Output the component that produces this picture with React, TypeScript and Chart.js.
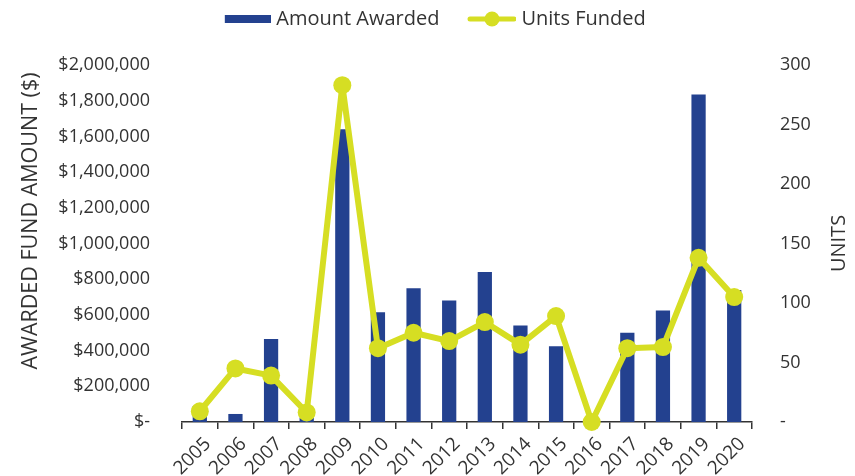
import React, { useEffect, useRef } from "react";
import { Chart, registerables } from "chart.js";

Chart.register(...registerables);

const years = ["2005", "2006", "2007", "2008", "2009", "2010", "2011", "2012", "2013", "2014", "2015", "2016", "2017", "2018", "2019", "2020"];
const amountAwarded = [90000, 45000, 465000, 25000, 1640000, 615000, 750000, 680000, 840000, 540000, 425000, 0, 500000, 625000, 1835000, 740000];
const unitsFunded = [9, 45, 39, 8, 283, 62, 75, 68, 84, 65, 89, 0, 62, 63, 138, 105];
const amountTicks = [0, 200000, 400000, 600000, 800000, 1000000, 1200000, 1400000, 1600000, 1800000, 2000000];
const unitTicks = [0, 50, 100, 150, 200, 250, 300];

const seriesNames = ["Amount Awarded", "Units Funded"];
const leftTitle = "AWARDED FUND AMOUNT ($)";
const rightTitle = "UNITS";

const BLUE = "#23418F";
const LIME = "#D6DE23";
const TEXT = "#333333";
const FONT = '"Open Sans", sans-serif';

function makeBarSymbol(): HTMLCanvasElement {
  const c = document.createElement("canvas");
  c.width = 72;
  c.height = 20;
  const g = c.getContext("2d")!;
  g.fillStyle = BLUE;
  g.fillRect(26, 6, 46, 8);
  return c;
}

function makeLineSymbol(): HTMLCanvasElement {
  const c = document.createElement("canvas");
  c.width = 72;
  c.height = 20;
  const g = c.getContext("2d")!;
  g.strokeStyle = LIME;
  g.lineWidth = 5;
  g.lineCap = "round";
  g.beginPath();
  g.moveTo(26, 10);
  g.lineTo(70, 10);
  g.stroke();
  g.fillStyle = LIME;
  g.beginPath();
  g.arc(48, 10, 7.5, 0, Math.PI * 2);
  g.fill();
  return c;
}

// keep the legend at the very top of the canvas while the plot area starts lower
const legendTopPlugin = {
  id: "legendTop",
  afterLayout(chart: any) {
    const lg = chart.legend;
    if (!lg) return;
    const h = lg.height;
    lg.top = 0;
    lg.bottom = h;
    lg.left -= 3;
    lg.right -= 3;
  },
};

const axisTitlesPlugin = {
  id: "axisTitles",
  afterDraw(chart: any) {
    const ctx = chart.ctx;
    const area = chart.chartArea;
    ctx.save();
    ctx.fillStyle = TEXT;
    ctx.textAlign = "center";
    ctx.textBaseline = "middle";
    ctx.save();
    ctx.font = `21.5px ${FONT}`;
    ctx.translate(31, area.top + 156);
    ctx.rotate(-Math.PI / 2);
    ctx.fillText(leftTitle, 0, 0);
    ctx.restore();
    ctx.save();
    ctx.font = `20px ${FONT}`;
    ctx.translate(chart.width - 16, (area.top + area.bottom) / 2);
    ctx.rotate(-Math.PI / 2);
    ctx.fillText(rightTitle, 0, 0);
    ctx.restore();
    ctx.restore();
  },
};

export default function App() {
  const ref = useRef<HTMLCanvasElement | null>(null);

  useEffect(() => {
    if (!ref.current) return;
    const barSym = makeBarSymbol();
    const lineSym = makeLineSymbol();

    const chart = new Chart(ref.current, {
      type: "bar",
      data: {
        labels: years,
        datasets: [
          {
            type: "bar",
            label: seriesNames[0],
            data: amountAwarded,
            backgroundColor: BLUE,
            borderWidth: 0,
            barPercentage: 0.4,
            categoryPercentage: 1,
            yAxisID: "yAmount",
            order: 1,
          } as any,
          {
            type: "line",
            label: seriesNames[1],
            data: unitsFunded,
            borderColor: LIME,
            backgroundColor: LIME,
            borderWidth: 6,
            borderJoinStyle: "round",
            pointRadius: 9,
            pointBackgroundColor: LIME,
            pointBorderWidth: 0,
            tension: 0,
            clip: false,
            yAxisID: "yUnits",
            order: 0,
          } as any,
        ],
      },
      options: {
        animation: false,
        responsive: false,
        devicePixelRatio: 1,
        layout: { padding: 0 },
        plugins: {
          tooltip: { enabled: false },
          legend: {
            display: true,
            position: "top",
            labels: {
              usePointStyle: true,
              pointStyleWidth: 63,
              padding: 9,
              color: TEXT,
              font: { family: FONT, size: 20 },
              generateLabels: () => [
                { text: seriesNames[0], pointStyle: barSym, fillStyle: BLUE, strokeStyle: BLUE, lineWidth: 0, datasetIndex: 0, hidden: false, fontColor: TEXT } as any,
                { text: seriesNames[1], pointStyle: lineSym, fillStyle: LIME, strokeStyle: LIME, lineWidth: 0, datasetIndex: 1, hidden: false, fontColor: TEXT } as any,
              ],
            },
          },
        },
        scales: {
          x: {
            offset: true,
            grid: {
              display: true,
              offset: true,
              drawOnChartArea: false,
              drawTicks: true,
              tickLength: 7,
              color: TEXT,
              lineWidth: 1.5,
            },
            border: { display: true, color: TEXT, width: 1.5 },
            ticks: {
              color: TEXT,
              font: { family: FONT, size: 19 },
              minRotation: 45,
              maxRotation: 45,
              padding: 4,
              labelOffset: 8,
              autoSkip: false,
            },
            afterFit: (s: any) => {
              s.height = 54;
            },
          },
          yAmount: {
            type: "linear",
            position: "left",
            min: 0,
            max: 2000000,
            afterBuildTicks: (s: any) => {
              s.ticks = amountTicks.map((v) => ({ value: v }));
            },
            grid: { display: false, drawTicks: false },
            border: { display: false },
            ticks: {
              color: TEXT,
              font: { family: FONT, size: 18 },
              padding: 32,
              callback: (v: any) => (Number(v) === 0 ? "$-" : "$" + Number(v).toLocaleString("en-US")),
            },
            afterFit: (s: any) => {
              s.width = 182;
              s.paddingTop = 65;
            },
          },
          yUnits: {
            type: "linear",
            position: "right",
            min: 0,
            max: 300,
            afterBuildTicks: (s: any) => {
              s.ticks = unitTicks.map((v) => ({ value: v }));
            },
            grid: { display: false, drawTicks: false },
            border: { display: false },
            ticks: {
              color: TEXT,
              font: { family: FONT, size: 18 },
              padding: 28,
              callback: (v: any) => (Number(v) === 0 ? "-" : String(v)),
            },
            afterFit: (s: any) => {
              s.width = 103;
            },
          },
        },
      },
      plugins: [legendTopPlugin, axisTitlesPlugin],
    });

    return () => chart.destroy();
  }, []);

  return (
    <div style={{ position: "absolute", left: 0, top: 0, width: 855, height: 476, background: "#fff" }}>
      <canvas ref={ref} width={855} height={476} style={{ display: "block" }} />
    </div>
  );
}
